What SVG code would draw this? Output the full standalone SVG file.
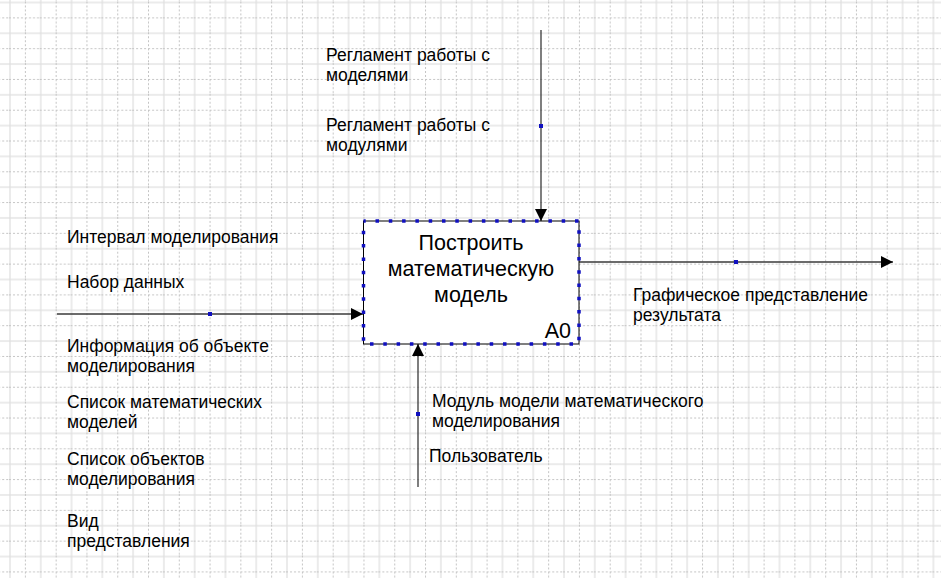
<svg xmlns="http://www.w3.org/2000/svg" width="941" height="578" viewBox="0 0 941 578">
<style>
.lbl{font-family:"Liberation Sans",Arial,sans-serif;font-size:17.5px;fill:#000}
.ttl{font-family:"Liberation Sans",Arial,sans-serif;font-size:21.5px;fill:#000}
.arr{stroke:#3a3a3a;stroke-width:1.3;fill:none}
.dot{fill:#1010c0}
</style>
<defs>
<pattern id="grid" patternUnits="userSpaceOnUse" x="9" y="1.5" width="30.78" height="30.78">
<line x1="1" y1="0" x2="1" y2="30.78" stroke="#dedede" stroke-width="1.2"/>
<line x1="0" y1="1" x2="30.78" y2="1" stroke="#dedede" stroke-width="1.2"/>
<line x1="16.39" y1="0" x2="16.39" y2="30.78" stroke="#c4c4c4" stroke-width="1" stroke-dasharray="2 2"/>
<line x1="0" y1="16.39" x2="30.78" y2="16.39" stroke="#c4c4c4" stroke-width="1" stroke-dasharray="2 2"/>
</pattern>
<marker id="ah" viewBox="0 0 12 12" refX="12" refY="6" markerWidth="12" markerHeight="12" markerUnits="userSpaceOnUse" orient="auto">
<path d="M0,0 L12,6 L0,12 Z" fill="#000"/>
</marker>
</defs>
<rect width="941" height="578" fill="#fff"/>
<rect width="941" height="578" fill="url(#grid)"/>

<g id="connectors">
<g id="control">
<line class="arr" x1="541" y1="30" x2="541" y2="221" marker-end="url(#ah)"/>
<rect class="dot" x="539" y="124" width="4" height="4"/>
</g>
<g id="input">
<line class="arr" x1="57" y1="314" x2="363" y2="314" marker-end="url(#ah)"/>
<rect class="dot" x="208" y="312" width="4" height="4"/>
</g>
<g id="output">
<line class="arr" x1="579" y1="262" x2="893" y2="262" marker-end="url(#ah)"/>
<rect class="dot" x="734" y="260" width="4" height="4"/>
</g>
<g id="mechanism">
<line class="arr" x1="418" y1="487" x2="418" y2="344" marker-end="url(#ah)"/>
<rect class="dot" x="416" y="412" width="4" height="4"/>
</g>
</g>

<g id="node-A0">
<rect x="363.5" y="221" width="215.5" height="123" fill="#fff" stroke="#000" stroke-width="1"/>
<rect x="363.5" y="221" width="215.5" height="123" fill="none" stroke="#1010c0" stroke-width="3.5" stroke-dasharray="3.5 9.8" stroke-dashoffset="-12"/>
<text class="ttl" text-anchor="middle" x="471" y="250">Построить</text>
<text class="ttl" text-anchor="middle" x="471" y="276">математическую</text>
<text class="ttl" text-anchor="middle" x="471" y="302">модель</text>
<text class="ttl" text-anchor="end" x="571" y="337.5">A0</text>
</g>

<g id="labels">
<text class="lbl" x="326" y="60.7">Регламент работы с</text>
<text class="lbl" x="326" y="80.7">моделями</text>
<text class="lbl" x="326" y="130.7">Регламент работы с</text>
<text class="lbl" x="326" y="150.7">модулями</text>
<text class="lbl" x="67" y="243.3">Интервал моделирования</text>
<text class="lbl" x="67" y="287.7">Набор данных</text>
<text class="lbl" x="67" y="351.7">Информация об объекте</text>
<text class="lbl" x="67" y="371.7">моделирования</text>
<text class="lbl" x="67" y="408.3">Список математических</text>
<text class="lbl" x="67" y="427.8">моделей</text>
<text class="lbl" x="67" y="465">Список объектов</text>
<text class="lbl" x="67" y="484.5">моделирования</text>
<text class="lbl" x="67" y="527.3">Вид</text>
<text class="lbl" x="67" y="546.7">представления</text>
<text class="lbl" x="633" y="300.5">Графическое представление</text>
<text class="lbl" x="633" y="320.5">результата</text>
<text class="lbl" x="432" y="406.5">Модуль модели математического</text>
<text class="lbl" x="432" y="426.5">моделирования</text>
<text class="lbl" x="429" y="461.5">Пользователь</text>
</g>
</svg>
